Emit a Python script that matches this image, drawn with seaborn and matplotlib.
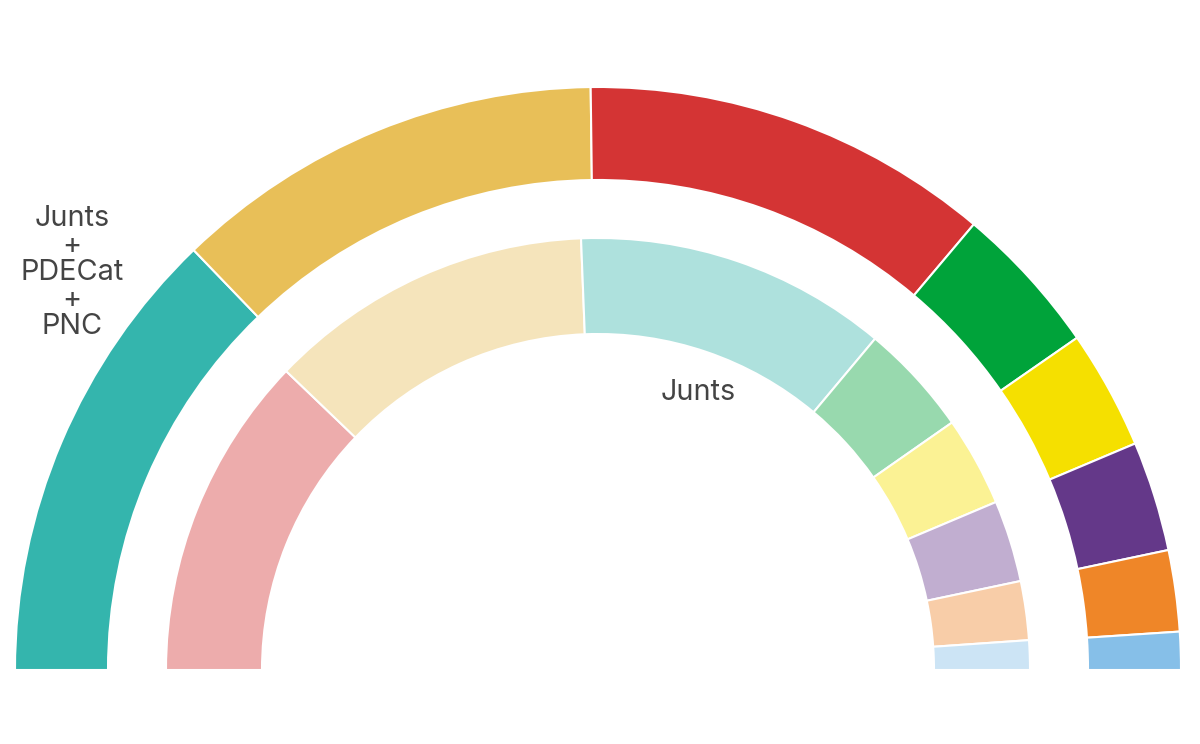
import matplotlib
matplotlib.use("Agg")
import matplotlib.pyplot as plt
import seaborn as sns

# Data
outer_labels = ["Junts + PDECat + PNC", "ERC", "PSC", "Vox", "CUP", "Comuns", "Cs", "PP"]
outer_values = [25.6, 24.0, 22.7, 8.4, 6.6, 6.1, 4.5, 2.1]
outer_colors = ["#34b5ad", "#e8bf58", "#d43434", "#00a33a", "#f5e000", "#643889", "#ef8628", "#86bfe8"]

inner_labels = ["PSC", "ERC", "Junts", "Vox", "CUP", "Comuns", "Cs", "PP"]
inner_values = [24.3, 24.4, 23.4, 8.4, 6.7, 6.1, 4.4, 2.2]
inner_colors = ["#edacac", "#f5e4bb", "#aee1dd", "#98d9ae", "#fbf294", "#c1aed0", "#f8cda8", "#cce4f5"]

sns.set_theme(style="white")
plt.rcParams["font.family"] = ["Inter", "DejaVu Sans"]

fig = plt.figure(figsize=(12, 7.44), dpi=100)
ax = fig.add_axes([0, 0, 1, 1])

def half_donut(values, colors, radius, width):
    vals = list(values) + [sum(values)]
    cols = list(colors) + ["none"]
    wedges, _ = ax.pie(vals, colors=cols, startangle=180, counterclock=False,
                       radius=radius,
                       wedgeprops=dict(width=width, edgecolor="white", linewidth=1.5))
    wedges[-1].set_visible(False)
    return wedges

half_donut(outer_values, outer_colors, 583, 93)
half_donut(inner_values, inner_colors, 432, 96)

ax.set_xlim(-598, 602)
ax.set_ylim(-74, 670)
ax.set_aspect("equal")
ax.axis("off")

ax.text(-526, 398, "Junts\n+\nPDECat\n+\nPNC", ha="center", va="center",
        fontsize=20.8, color="#444444", linespacing=1.0)
ax.text(100, 278, "Junts", ha="center", va="center", fontsize=20.8, color="#444444")

fig.savefig("out.png", dpi=100, facecolor="white")
